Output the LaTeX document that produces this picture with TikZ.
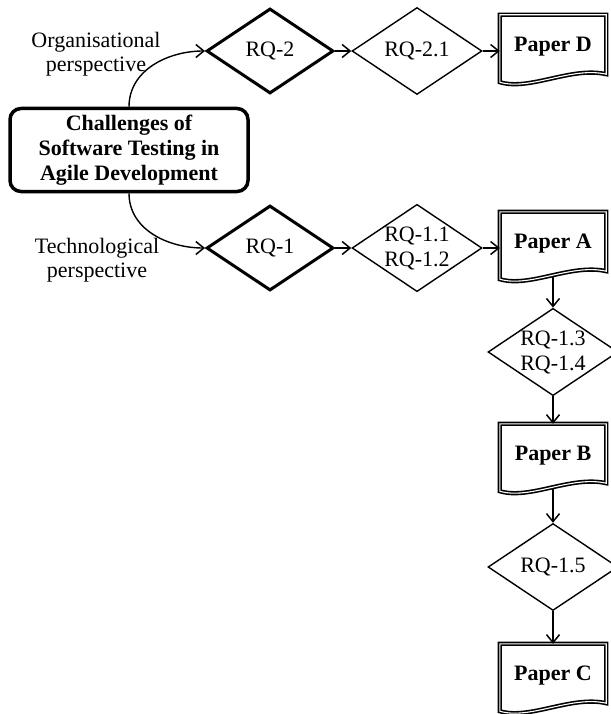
\documentclass[tikz,border=0pt]{standalone}
\usepackage{fontspec}
\setmainfont{Liberation Serif}
\usetikzlibrary{shapes.geometric,arrows.meta,calc}
\tikzset{
  txt/.style={font=\fontsize{22}{24}\selectfont, align=center, inner sep=0pt},
  rqthick/.style={diamond, draw, line width=3pt, minimum width=127pt, minimum height=85pt, inner sep=0pt, aspect=1.48, font=\fontsize{22}{25}\selectfont, align=center},
  rqthin/.style={diamond, draw, line width=1.4pt, minimum width=130pt, minimum height=87pt, inner sep=0pt, aspect=1.48, font=\fontsize{22}{25}\selectfont, align=center},
  mainbox/.style={rectangle, draw, rounded corners=11pt, line width=3.5pt, minimum width=238pt, minimum height=83pt, inner sep=0pt, font=\bfseries\fontsize{22}{25}\selectfont, align=center},
  paperbox/.style={rectangle, minimum width=106pt, minimum height=64pt, inner sep=0pt, font=\bfseries\fontsize{22}{25}\selectfont},
  docline/.style={draw, double=white, double distance=1.1pt, line width=1.6pt, line join=miter},
  arr/.style={-{Straight Barb[length=8pt,width=13pt,line width=1.5pt]}, line width=1.4pt},
}
\newcommand\docoutline[1]{%
  \path[docline] ([yshift=-3pt]#1.south west) .. controls +(30pt,-9pt) and +(-35pt,8pt) .. ([yshift=5pt]#1.south east) -- (#1.north east) -- (#1.north west) -- cycle;}
\begin{document}
\begin{tikzpicture}[x=1pt,y=-1pt]
\useasboundingbox (0,0) rectangle (610,714);
\fill[white] (0,0) rectangle (610,714);

\node[mainbox] (box) at (129,150) {Challenges of\\Software Testing in\\Agile Development};

\node[rqthick] (rq2) at (270,51) {RQ-2};
\node[rqthin] (rq21) at (417,51) {RQ-2.1};
\node[paperbox] (pd) at (553,47) {Paper D};
\docoutline{pd}

\node[rqthick] (rq1) at (270,248) {RQ-1};
\node[rqthin] (rq11) at (417,248) {RQ-1.1\\RQ-1.2};
\node[paperbox] (pa) at (553,244) {Paper A};
\docoutline{pa}

\node[rqthin] (rq13) at (553,352) {RQ-1.3\\RQ-1.4};
\node[paperbox] (pb) at (553,456) {Paper B};
\docoutline{pb}

\node[rqthin] (rq15) at (553,567) {RQ-1.5};
\node[paperbox] (pc) at (553,676) {Paper C};
\docoutline{pc}

\node[txt] (org) at (96,54) {Organisational\\perspective};
\node[txt] (tech) at (97,260) {Technological\\perspective};

\draw[arr] (box.north) to[out=90,in=180] (rq2.west);
\draw[arr] (box.south) to[out=-90,in=180] (rq1.west);

\draw[arr] (rq2.east) -- (rq21.west);
\draw[arr] (rq21.east) -- (rq21.east -| pd.west);
\draw[arr] (rq1.east) -- (rq11.west);
\draw[arr] (rq11.east) -- (rq11.east -| pa.west);

\draw[arr] (pa.south) -- (rq13.north);
\draw[arr] (rq13.south) -- (pb.north);
\draw[arr] (pb.south) -- (rq15.north);
\draw[arr] (rq15.south) -- (pc.north);
\end{tikzpicture}
\end{document}
